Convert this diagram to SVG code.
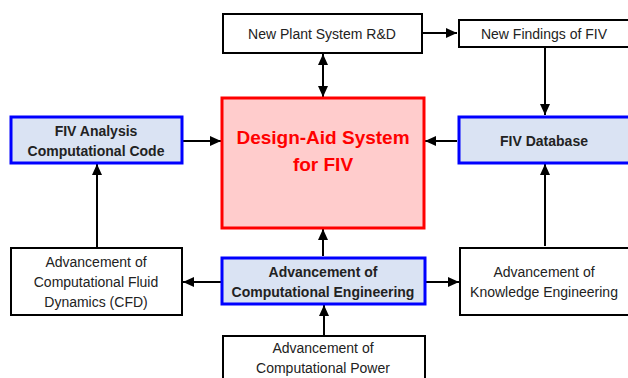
<svg xmlns="http://www.w3.org/2000/svg" width="628" height="378" viewBox="0 0 628 378">
<style>
.plain{fill:#fff;stroke:#000;stroke-width:2}
.blue{fill:#dae3f3;stroke:#0000ff;stroke-width:3}
.red{fill:#ffcccc;stroke:#ff0000;stroke-width:3}
text{font-family:"Liberation Sans",Arial,sans-serif;font-size:14px;fill:#222;text-anchor:middle}
.b{font-weight:bold}
.title{font-weight:bold;font-size:19px;fill:#ff0000}
.conn line{stroke:#000;stroke-width:2}
</style>
<defs>
<marker id="ah" markerUnits="userSpaceOnUse" markerWidth="12" markerHeight="12" viewBox="0 0 12 12" refX="11" refY="6" orient="auto-start-reverse">
<path d="M0,1 L11,6 L0,11 Z" fill="#000"/>
</marker>
</defs>
<g id="conn" class="conn">
<line x1="323" y1="54" x2="323" y2="97" marker-start="url(#ah)" marker-end="url(#ah)"/>
<line x1="422" y1="33" x2="457" y2="33" marker-end="url(#ah)"/>
<line x1="545" y1="48" x2="545" y2="115" marker-end="url(#ah)"/>
<line x1="457" y1="141" x2="425" y2="141" marker-end="url(#ah)"/>
<line x1="183" y1="141" x2="221" y2="141" marker-end="url(#ah)"/>
<line x1="97" y1="247" x2="97" y2="164" marker-end="url(#ah)"/>
<line x1="545" y1="246" x2="545" y2="164" marker-end="url(#ah)"/>
<line x1="323" y1="256" x2="323" y2="229" marker-end="url(#ah)"/>
<line x1="221" y1="282" x2="183" y2="282" marker-end="url(#ah)"/>
<line x1="426" y1="282" x2="459" y2="282" marker-end="url(#ah)"/>
<line x1="324" y1="336" x2="324" y2="305" marker-end="url(#ah)"/>
</g>
<g id="newplant">
<rect class="plain" x="223" y="14" width="199" height="39"/>
<text x="322" y="39">New Plant System R&amp;D</text>
</g>
<g id="newfindings">
<rect class="plain" x="459" y="20" width="180" height="27"/>
<text x="544" y="39">New Findings of FIV</text>
</g>
<g id="designaid">
<rect class="red" x="222" y="98" width="202" height="130"/>
<text class="title" x="323" y="144">Design-Aid System</text>
<text class="title" x="323" y="171">for FIV</text>
</g>
<g id="fivanalysis">
<rect class="blue" x="11" y="117" width="171" height="46"/>
<text class="b" x="96" y="136">FIV Analysis</text>
<text class="b" x="96" y="156">Computational Code</text>
</g>
<g id="fivdb">
<rect class="blue" x="459" y="117" width="180" height="46"/>
<text class="b" x="544" y="146">FIV Database</text>
</g>
<g id="cfd">
<rect class="plain" x="11" y="248" width="171" height="67"/>
<text x="96" y="267">Advancement of</text>
<text x="96" y="287">Computational Fluid</text>
<text x="96" y="307">Dynamics (CFD)</text>
</g>
<g id="compeng">
<rect class="blue" x="222" y="258" width="203" height="46"/>
<text class="b" x="323" y="277">Advancement of</text>
<text class="b" x="323" y="297">Computational Engineering</text>
</g>
<g id="knowledge">
<rect class="plain" x="460" y="248" width="180" height="67"/>
<text x="544" y="277">Advancement of</text>
<text x="544" y="297">Knowledge Engineering</text>
</g>
<g id="power">
<rect class="plain" x="223" y="336" width="202" height="50"/>
<text x="323" y="353">Advancement of</text>
<text x="323" y="373">Computational Power</text>
</g>
</svg>
